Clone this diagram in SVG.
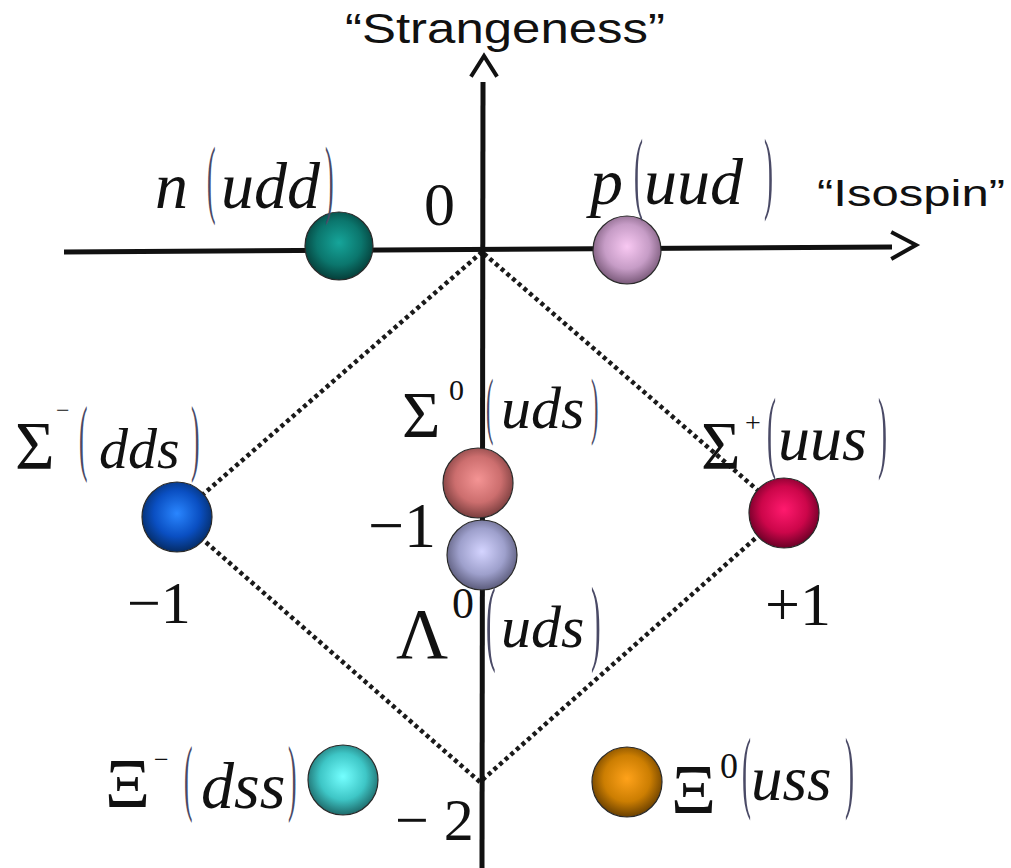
<svg xmlns="http://www.w3.org/2000/svg" width="1011" height="868" viewBox="0 0 1011 868">
<defs>
<style>
.rm{font-family:"Liberation Serif","Times New Roman",serif;fill:#111}
.it{font-family:"Liberation Serif","Times New Roman",serif;font-style:italic;fill:#111}
.sans{font-family:"Liberation Sans",Arial,sans-serif;fill:#111}
.par{font-family:"Liberation Serif","Times New Roman",serif;fill:#4a4a66}
.ball{stroke:#2a2a2a;stroke-width:1.2}
.axis{stroke:#111;stroke-width:5;fill:none}
.head{stroke:#111;stroke-width:4;fill:none;stroke-linecap:square}
.dot{stroke:#1a1a1a;stroke-width:4.5;fill:none;stroke-dasharray:4 3.5}
</style>
<radialGradient id="gN" cx="0.5" cy="0.45" r="0.55"><stop offset="0" stop-color="#16a59a"/><stop offset="0.6" stop-color="#0b766d"/><stop offset="1" stop-color="#053e39"/></radialGradient>
<radialGradient id="gP" cx="0.5" cy="0.45" r="0.55"><stop offset="0" stop-color="#f8c8f2"/><stop offset="0.6" stop-color="#c69cc6"/><stop offset="1" stop-color="#7a5a7a"/></radialGradient>
<radialGradient id="gSm" cx="0.5" cy="0.45" r="0.55"><stop offset="0" stop-color="#2a86ff"/><stop offset="0.6" stop-color="#0a4fc2"/><stop offset="1" stop-color="#052c66"/></radialGradient>
<radialGradient id="gS0" cx="0.5" cy="0.45" r="0.55"><stop offset="0" stop-color="#f49494"/><stop offset="0.6" stop-color="#cc6e6e"/><stop offset="1" stop-color="#7a3e3e"/></radialGradient>
<radialGradient id="gL0" cx="0.5" cy="0.45" r="0.55"><stop offset="0" stop-color="#d4d4ff"/><stop offset="0.6" stop-color="#9ea0cc"/><stop offset="1" stop-color="#5c5c7c"/></radialGradient>
<radialGradient id="gSp" cx="0.5" cy="0.45" r="0.55"><stop offset="0" stop-color="#ff1a6e"/><stop offset="0.6" stop-color="#cc064a"/><stop offset="1" stop-color="#6a0026"/></radialGradient>
<radialGradient id="gXm" cx="0.5" cy="0.45" r="0.55"><stop offset="0" stop-color="#74ffff"/><stop offset="0.6" stop-color="#3ec6c6"/><stop offset="1" stop-color="#1e6a6a"/></radialGradient>
<radialGradient id="gX0" cx="0.5" cy="0.45" r="0.55"><stop offset="0" stop-color="#ffa21a"/><stop offset="0.6" stop-color="#cc7e02"/><stop offset="1" stop-color="#6a4000"/></radialGradient>
</defs>
<rect width="1011" height="868" fill="#fff"/>

<g id="connectors">
  <polygon class="dot" points="482,252 177,517 480,782 784,513"/>
  <line class="axis" x1="483" y1="82" x2="482" y2="868"/>
  <polyline class="head" points="472,75 484,56 496,75"/>
  <line class="axis" x1="64" y1="252" x2="892" y2="247"/>
  <polyline class="head" points="893,233 916,245 893,258"/>
</g>

<g id="axis-labels">
  <text class="sans" x="345" y="43" font-size="42" textLength="320" lengthAdjust="spacingAndGlyphs">“Strangeness”</text>
  <text class="sans" x="817" y="206" font-size="36" textLength="188" lengthAdjust="spacingAndGlyphs">“Isospin”</text>
  <text class="rm" x="424" y="225" font-size="62">0</text>
  <text class="rm" x="127" y="623" font-size="60">−1</text>
  <text class="rm" x="368" y="547" font-size="64">−1</text>
  <text class="rm" x="765" y="625" font-size="62">+1</text>
  <text class="rm" x="395" y="840" font-size="60">− 2</text>
</g>

<g id="node-n">
  <circle class="ball" cx="339" cy="246" r="34" fill="url(#gN)"/>
  <text class="it" x="155" y="208" font-size="66">n</text>
  <text class="par" transform="translate(207,207) scale(0.3,1)" font-size="86">(</text>
  <text class="it" x="221" y="208" font-size="66">udd</text>
  <text class="par" transform="translate(325,207) scale(0.3,1)" font-size="86">)</text>
</g>

<g id="node-p">
  <circle class="ball" cx="627" cy="250" r="34" fill="url(#gP)"/>
  <text class="it" x="590" y="204" font-size="66">p</text>
  <text class="par" transform="translate(634,202) scale(0.3,1)" font-size="90">(</text>
  <text class="it" x="644" y="204" font-size="66">uud</text>
  <text class="par" transform="translate(764,202) scale(0.3,1)" font-size="90">)</text>
</g>

<g id="node-sigma-minus">
  <circle class="ball" cx="177" cy="517" r="35" fill="url(#gSm)"/>
  <text class="rm" x="15" y="468" font-size="68">Σ</text>
  <text class="rm" x="56" y="418" font-size="24">−</text>
  <text class="par" transform="translate(79,465) scale(0.3,1)" font-size="85">(</text>
  <text class="it" x="99" y="468" font-size="58">dds</text>
  <text class="par" transform="translate(191,465) scale(0.3,1)" font-size="85">)</text>
</g>

<g id="node-sigma-zero">
  <circle class="ball" cx="478" cy="483" r="35" fill="url(#gS0)"/>
  <text class="rm" x="402" y="437" font-size="66">Σ</text>
  <text class="rm" x="449" y="400" font-size="30">0</text>
  <text class="par" transform="translate(486,430) scale(0.3,1)" font-size="74">(</text>
  <text class="it" x="501" y="428" font-size="60">uds</text>
  <text class="par" transform="translate(591,430) scale(0.3,1)" font-size="74">)</text>
</g>

<g id="node-lambda-zero">
  <circle class="ball" cx="482" cy="555" r="35" fill="url(#gL0)"/>
  <text class="rm" x="396" y="658" font-size="72">Λ</text>
  <text class="rm" x="452" y="618" font-size="44">0</text>
  <text class="par" transform="translate(486,653) scale(0.3,1)" font-size="96">(</text>
  <text class="it" x="501" y="647" font-size="60">uds</text>
  <text class="par" transform="translate(591,653) scale(0.3,1)" font-size="96">)</text>
</g>

<g id="node-sigma-plus">
  <circle class="ball" cx="784" cy="513" r="35" fill="url(#gSp)"/>
  <text class="rm" x="701" y="468" font-size="68">Σ</text>
  <text class="rm" x="745" y="432" font-size="28">+</text>
  <text class="par" transform="translate(767,461) scale(0.3,1)" font-size="90">(</text>
  <text class="it" x="778" y="460" font-size="64">uus</text>
  <text class="par" transform="translate(878,461) scale(0.3,1)" font-size="90">)</text>
</g>

<g id="node-xi-minus">
  <circle class="ball" cx="343" cy="780" r="35" fill="url(#gXm)"/>
  <text class="rm" x="105" y="807" font-size="70">Ξ</text>
  <text class="rm" x="154" y="768" font-size="26">−</text>
  <text class="par" transform="translate(184,805) scale(0.3,1)" font-size="85">(</text>
  <text class="it" x="201" y="808" font-size="66">dss</text>
  <text class="par" transform="translate(288,805) scale(0.3,1)" font-size="85">)</text>
</g>

<g id="node-xi-zero">
  <circle class="ball" cx="627" cy="782" r="35" fill="url(#gX0)"/>
  <text class="rm" x="671" y="813" font-size="70">Ξ</text>
  <text class="rm" x="720" y="778" font-size="36">0</text>
  <text class="par" transform="translate(742,801) scale(0.3,1)" font-size="90">(</text>
  <text class="it" x="751" y="800" font-size="63">uss</text>
  <text class="par" transform="translate(845,801) scale(0.3,1)" font-size="90">)</text>
</g>
</svg>
